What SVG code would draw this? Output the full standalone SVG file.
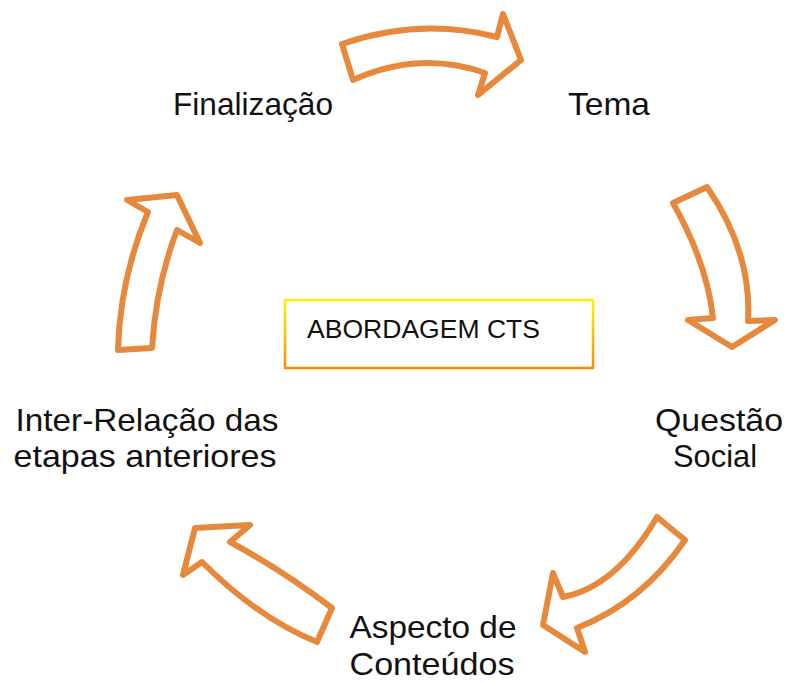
<svg xmlns="http://www.w3.org/2000/svg" width="788" height="682" viewBox="0 0 788 682">
<defs>
<style>
.lbl{font-family:"Liberation Sans",Arial,sans-serif;font-size:32px;fill:#111;text-anchor:middle}
.arr{fill:#fff;stroke:#E6893C;stroke-width:6;stroke-linejoin:round}
</style>
<linearGradient id="g" x1="0" y1="0" x2="0" y2="1">
<stop offset="0" stop-color="#FFF200"/>
<stop offset="1" stop-color="#FF8A00"/>
</linearGradient>
</defs>
<rect width="788" height="682" fill="#fff"/>
<g id="connectors">
<path class="arr" d="M 342 44 Q 420 17 497 37 L 503 14 L 521 60 L 478 95 L 485 73 Q 420 50 353 80 Z"/>
<path class="arr" d="M 673 203 L 707 187 Q 752 252 748 321 L 775 320 L 732 347 L 688 320 L 713 318 Q 707 263 673 203 Z"/>
<path class="arr" d="M 657 517 L 685 540 Q 643 602 577 628 L 585 652 L 543 625 L 553 573 L 563 597 Q 616 587 657 517 Z"/>
<path class="arr" d="M 317 642 L 332 608 Q 282 570 230 542 L 250 525 L 195 528 L 183 575 L 202 562 Q 258 618 317 642 Z"/>
<path class="arr" d="M 118 350 L 152 348 Q 156 285 177 230 L 200 243 L 177 195 L 127 200 L 148 212 Q 120 279 118 350 Z"/>
</g>
<g id="center">
<rect x="285" y="300" width="308" height="68" fill="#fff" stroke="url(#g)" stroke-width="2.5"/>
<text x="307" y="338" font-family="Liberation Sans,Arial,sans-serif" font-size="26" fill="#111" textLength="233" lengthAdjust="spacingAndGlyphs">ABORDAGEM CTS</text>
</g>
<g id="tema"><text class="lbl" x="609" y="115" textLength="82" lengthAdjust="spacingAndGlyphs">Tema</text></g>
<g id="questao"><text class="lbl" x="719" y="431" textLength="128" lengthAdjust="spacingAndGlyphs">Questão</text><text class="lbl" x="715" y="467" textLength="84" lengthAdjust="spacingAndGlyphs">Social</text></g>
<g id="aspecto"><text class="lbl" x="433" y="638" textLength="167" lengthAdjust="spacingAndGlyphs">Aspecto de</text><text class="lbl" x="432" y="675" textLength="165" lengthAdjust="spacingAndGlyphs">Conteúdos</text></g>
<g id="inter"><text class="lbl" x="147" y="431" textLength="263" lengthAdjust="spacingAndGlyphs">Inter-Relação das</text><text class="lbl" x="145" y="467" textLength="263" lengthAdjust="spacingAndGlyphs">etapas anteriores</text></g>
<g id="finalizacao"><text class="lbl" x="253" y="115" textLength="160" lengthAdjust="spacingAndGlyphs">Finalização</text></g>
</svg>
